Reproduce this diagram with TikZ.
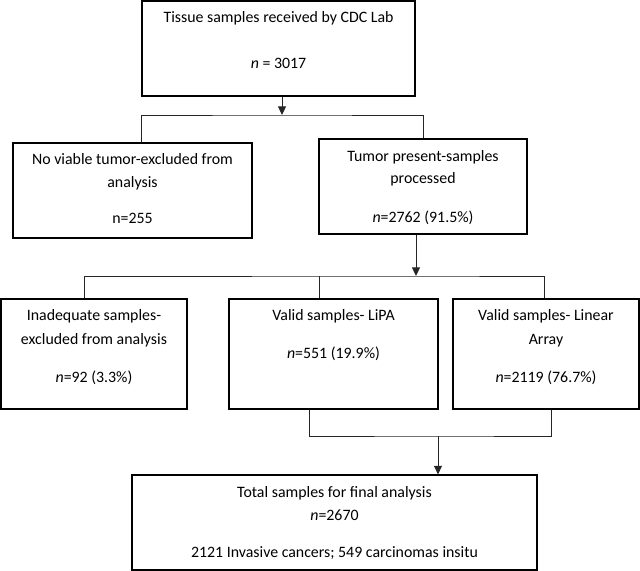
\documentclass[tikz,border=0pt]{standalone}
\usepackage{fontspec}
\setmainfont{Carlito}
\usetikzlibrary{fit,arrows.meta}
\begin{document}
\begin{tikzpicture}[x=0.75pt,y=-0.75pt,
  box/.style={draw=black,line width=0.85pt,inner sep=0pt,fill=none},
  txt/.style={anchor=base,inner sep=0pt,font=\fontsize{11.9pt}{14pt}\selectfont},
  conn/.style={draw=black!85,line width=0.75pt},
  arr/.style={conn,-{Triangle[width=6pt,length=6.5pt]}}]
\useasboundingbox (0,0) rectangle (640,571);
% boxes
\node[box,fit={(142,1) (415,96)}] (b1) {};
\node[box,fit={(13,143) (252,238)}] (b2) {};
\node[box,fit={(319,139) (527,234)}] (b3) {};
\node[box,fit={(1,299) (187,409)}] (b4) {};
\node[box,fit={(229,299) (438,409)}] (b5) {};
\node[box,fit={(453,299) (639,409)}] (b6) {};
\node[box,fit={(132,475) (537,570)}] (b7) {};
% texts
\node[txt] (t1a) at (278.5,22) {Tissue samples received by CDC Lab};
\node[txt] (t1b) at (278.5,68) {\textit{n} = 3017};
\node[txt] (t2a) at (132.5,164) {No viable tumor-excluded from};
\node[txt] (t2b) at (132.5,187) {analysis};
\node[txt] (t2c) at (132.5,223) {n=255};
\node[txt] (t3a) at (423,161) {Tumor present-samples};
\node[txt] (t3b) at (423,183) {processed};
\node[txt] (t3c) at (423,222) {\textit{n}=2762 (91.5\%)};
\node[txt] (t4a) at (94,320) {Inadequate samples-};
\node[txt] (t4b) at (94,344) {excluded from analysis};
\node[txt] (t4c) at (94,382) {\textit{n}=92 (3.3\%)};
\node[txt] (t5a) at (333.5,320) {Valid samples- LiPA};
\node[txt] (t5b) at (333.5,358) {\textit{n}=551 (19.9\%)};
\node[txt] (t6a) at (546,320) {Valid samples- Linear};
\node[txt] (t6b) at (546,344) {Array};
\node[txt] (t6c) at (546,382) {\textit{n}=2119 (76.7\%)};
\node[txt] (t7a) at (334.5,497) {Total samples for final analysis};
\node[txt] (t7b) at (334.5,520) {\textit{n}=2670};
\node[txt] (t7c) at (334.5,557) {2121 Invasive cancers; 549 carcinomas insitu};
% junction coordinates
\coordinate (bar1) at (282,115);
\coordinate (bar2) at (416,276);
\coordinate (bar3) at (438,436);
\coordinate (v4) at (84,0);
\coordinate (v5) at (319,0);
\coordinate (v6) at (544,0);
\coordinate (u5) at (309,0);
\coordinate (u6) at (551,0);
% connectors
\draw[arr] (b1.south -| bar1) -- (bar1);
\draw[conn] (b2.north -| b1.west) |- (bar1) -| (b3.north);
\draw[arr] (b3.south -| bar2) -- (bar2);
\draw[conn] (b4.north -| v4) |- (bar2) -| (b6.north -| v6);
\draw[conn] (b5.north -| v5) -- (bar2 -| v5);
\draw[conn] (b5.south -| u5) |- (bar3) -| (b6.south -| u6);
\draw[arr] (bar3) -- (b7.north -| bar3);
\end{tikzpicture}
\end{document}
